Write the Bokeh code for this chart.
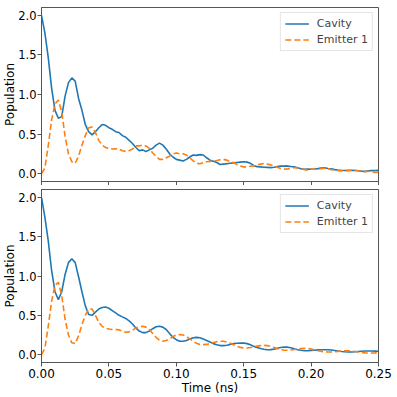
from bokeh.plotting import figure
from bokeh.layouts import column
from bokeh.models import FixedTicker, PrintfTickFormatter, Range1d, Legend, LegendItem
from bokeh.embed import file_html
from bokeh.resources import INLINE

# sample times (ns)
time_ns = [
    0.0, 0.0025, 0.005, 0.0075, 0.01, 0.0125, 0.015, 0.0175, 0.02, 0.0225,
    0.025, 0.0275, 0.03, 0.0325, 0.035, 0.0375, 0.04, 0.0425, 0.045, 0.0475,
    0.05, 0.0525, 0.055, 0.0575, 0.06, 0.0625, 0.065, 0.0675, 0.07, 0.0725,
    0.075, 0.0775, 0.08, 0.0825, 0.085, 0.0875, 0.09, 0.0925, 0.095, 0.0975,
    0.1, 0.1025, 0.105, 0.1075, 0.11, 0.1125, 0.115, 0.1175, 0.12, 0.1225,
    0.125, 0.1275, 0.13, 0.1325, 0.135, 0.1375, 0.14, 0.1425, 0.145, 0.1475,
    0.15, 0.1525, 0.155, 0.1575, 0.16, 0.1625, 0.165, 0.1675, 0.17, 0.1725,
    0.175, 0.1775, 0.18, 0.1825, 0.185, 0.1875, 0.19, 0.1925, 0.195, 0.1975,
    0.2, 0.2025, 0.205, 0.2075, 0.21, 0.2125, 0.215, 0.2175, 0.22, 0.2225,
    0.225, 0.2275, 0.23, 0.2325, 0.235, 0.2375, 0.24, 0.2425, 0.245, 0.2475,
    0.25,
]

# top panel (stochastic trajectories)
cavity_top = [
    2.0, 1.78, 1.47, 1.08, 0.80, 0.70, 0.72, 0.98, 1.15, 1.21,
    1.17, 0.95, 0.80, 0.62, 0.53, 0.49, 0.53, 0.58, 0.62, 0.61,
    0.58, 0.56, 0.53, 0.52, 0.48, 0.46, 0.42, 0.38, 0.33, 0.29,
    0.30, 0.28, 0.30, 0.32, 0.36, 0.385, 0.36, 0.31, 0.25, 0.21,
    0.18, 0.17, 0.16, 0.18, 0.21, 0.235, 0.23, 0.24, 0.235, 0.20,
    0.17, 0.155, 0.14, 0.115, 0.12, 0.125, 0.13, 0.135, 0.14, 0.145,
    0.15, 0.145, 0.13, 0.10, 0.088, 0.085, 0.08, 0.078, 0.076, 0.08,
    0.088, 0.095, 0.094, 0.097, 0.09, 0.085, 0.075, 0.062, 0.055, 0.057,
    0.055, 0.058, 0.063, 0.07, 0.074, 0.065, 0.06, 0.05, 0.045, 0.042,
    0.04, 0.036, 0.042, 0.04, 0.035, 0.03, 0.028, 0.035, 0.038, 0.04,
    0.042,
]
emitter_top = [
    0.0, 0.07, 0.35, 0.68, 0.88, 0.93, 0.78, 0.47, 0.25, 0.15,
    0.13, 0.22, 0.36, 0.48, 0.58, 0.59, 0.52, 0.42, 0.36, 0.33,
    0.32, 0.31, 0.315, 0.31, 0.29, 0.28, 0.29, 0.31, 0.35, 0.35,
    0.36, 0.35, 0.32, 0.26, 0.22, 0.18, 0.18, 0.20, 0.22, 0.25,
    0.26, 0.25, 0.25, 0.235, 0.20, 0.16, 0.13, 0.125, 0.14, 0.15,
    0.155, 0.16, 0.165, 0.175, 0.18, 0.17, 0.15, 0.14, 0.115, 0.095,
    0.085, 0.085, 0.092, 0.097, 0.11, 0.12, 0.127, 0.12, 0.11, 0.095,
    0.08, 0.065, 0.056, 0.06, 0.068, 0.076, 0.07, 0.06, 0.05, 0.043,
    0.06, 0.055, 0.055, 0.062, 0.068, 0.066, 0.05, 0.045, 0.038, 0.034,
    0.04, 0.045, 0.043, 0.043, 0.035, 0.03, 0.025, 0.028, 0.022, 0.015,
    0.018,
]

# bottom panel (averaged / smooth)
cavity_bottom = [
    2.0, 1.75, 1.45, 1.07, 0.80, 0.70, 0.80, 1.02, 1.17, 1.22,
    1.17, 0.99, 0.80, 0.62, 0.51, 0.50, 0.54, 0.58, 0.60, 0.605,
    0.59, 0.56, 0.53, 0.50, 0.48, 0.46, 0.43, 0.39, 0.34, 0.30,
    0.28, 0.28, 0.30, 0.33, 0.355, 0.36, 0.35, 0.32, 0.27, 0.22,
    0.19, 0.17, 0.17, 0.18, 0.20, 0.215, 0.22, 0.215, 0.20, 0.18,
    0.16, 0.14, 0.125, 0.115, 0.115, 0.12, 0.13, 0.14, 0.145, 0.148,
    0.147, 0.14, 0.125, 0.105, 0.09, 0.077, 0.068, 0.063, 0.064, 0.07,
    0.08, 0.09, 0.097, 0.095, 0.088, 0.075, 0.063, 0.055, 0.05, 0.05,
    0.052, 0.056, 0.06, 0.062, 0.063, 0.062, 0.058, 0.052, 0.046, 0.04,
    0.036, 0.034, 0.034, 0.036, 0.04, 0.043, 0.046, 0.047, 0.047, 0.045,
    0.043,
]
emitter_bottom = [
    0.0, 0.08, 0.36, 0.68, 0.88, 0.92, 0.75, 0.45, 0.25, 0.15,
    0.14, 0.24, 0.38, 0.50, 0.58, 0.58, 0.50, 0.41, 0.36, 0.335,
    0.325, 0.32, 0.32, 0.315, 0.30, 0.285, 0.29, 0.31, 0.34, 0.355,
    0.36, 0.35, 0.32, 0.27, 0.22, 0.185, 0.17, 0.18, 0.20, 0.23,
    0.25, 0.255, 0.25, 0.23, 0.20, 0.17, 0.145, 0.13, 0.127, 0.13,
    0.14, 0.155, 0.165, 0.17, 0.17, 0.16, 0.145, 0.125, 0.105, 0.092,
    0.086, 0.085, 0.09, 0.098, 0.108, 0.115, 0.118, 0.115, 0.105, 0.09,
    0.075, 0.063, 0.056, 0.055, 0.058, 0.065, 0.072, 0.078, 0.08, 0.078,
    0.07, 0.06, 0.05, 0.042, 0.036, 0.034, 0.034, 0.037, 0.042, 0.047,
    0.05, 0.05, 0.047, 0.04, 0.033, 0.027, 0.022, 0.02, 0.02, 0.022,
    0.025,
]

x_ticks = [0.0, 0.05, 0.10, 0.15, 0.20, 0.25]
y_ticks = [0.0, 0.5, 1.0, 1.5, 2.0]
series_labels = ["Cavity", "Emitter 1"]

BLUE = "#1f77b4"
ORANGE = "#ff7f0e"
SPINE = "#555555"
FONT = "DejaVu Sans"


def make_panel(cav, emi, bottom):
    p = figure(
        output_backend="svg", toolbar_location=None,
        frame_width=337, frame_height=173 if bottom else 174,
        x_range=Range1d(0, 0.25), y_range=Range1d(-0.1, 2.1),
        min_border_left=32, min_border_right=18,
        min_border_top=4 if bottom else 7,
        min_border_bottom=28 if bottom else 0,
    )
    p.background_fill_color = "white"
    p.border_fill_color = "white"
    p.grid.visible = False
    p.outline_line_color = SPINE
    p.outline_line_width = 1

    r1 = p.line(time_ns, cav, line_color=BLUE, line_width=1.6)
    r2 = p.line(time_ns, emi, line_color=ORANGE, line_width=1.6, line_dash="6 3")

    for ax in (p.xaxis[0], p.yaxis[0]):
        ax.axis_line_color = SPINE
        ax.major_tick_line_color = SPINE
        ax.minor_tick_line_color = None
        ax.major_tick_in = 0
        ax.major_tick_out = 4
        ax.major_label_text_font = FONT
        ax.major_label_text_color = "black"
        ax.axis_label_text_font = FONT
        ax.axis_label_text_font_size = "12px"
        ax.axis_label_text_font_style = "normal"
        ax.axis_label_text_color = "black"

    p.xaxis.ticker = FixedTicker(ticks=x_ticks)
    p.xaxis.formatter = PrintfTickFormatter(format="%.2f")
    p.xaxis.major_label_text_font_size = "12px"
    p.yaxis.ticker = FixedTicker(ticks=y_ticks)
    p.yaxis.formatter = PrintfTickFormatter(format="%.1f")
    p.yaxis.major_label_text_font_size = "11.5px"
    p.yaxis.axis_label = "Population"
    p.yaxis.major_label_standoff = 1
    p.yaxis.axis_label_standoff = -2

    if bottom:
        p.xaxis.axis_label = "Time (ns)"
        p.xaxis.major_label_standoff = 2
        p.xaxis.axis_label_standoff = 0
    else:
        p.xaxis.major_label_overrides = {t: "" for t in x_ticks}
        p.xaxis.major_label_standoff = 0

    legend = Legend(
        items=[LegendItem(label=series_labels[0], renderers=[r1]),
               LegendItem(label=series_labels[1], renderers=[r2])],
        location="top_right",
        label_text_font=FONT, label_text_font_size="11px",
        glyph_width=24, glyph_height=13, label_height=13, label_standoff=8,
        spacing=3, padding=4, margin=5,
        border_line_color="#cccccc", border_line_width=1,
        background_fill_alpha=0.8,
    )
    p.add_layout(legend)
    return p


p_top = make_panel(cavity_top, emitter_top, bottom=False)
p_bot = make_panel(cavity_bottom, emitter_bottom, bottom=True)

layout = column(p_top, p_bot, spacing=0)

open("out.html", "w").write(file_html(layout, INLINE))
